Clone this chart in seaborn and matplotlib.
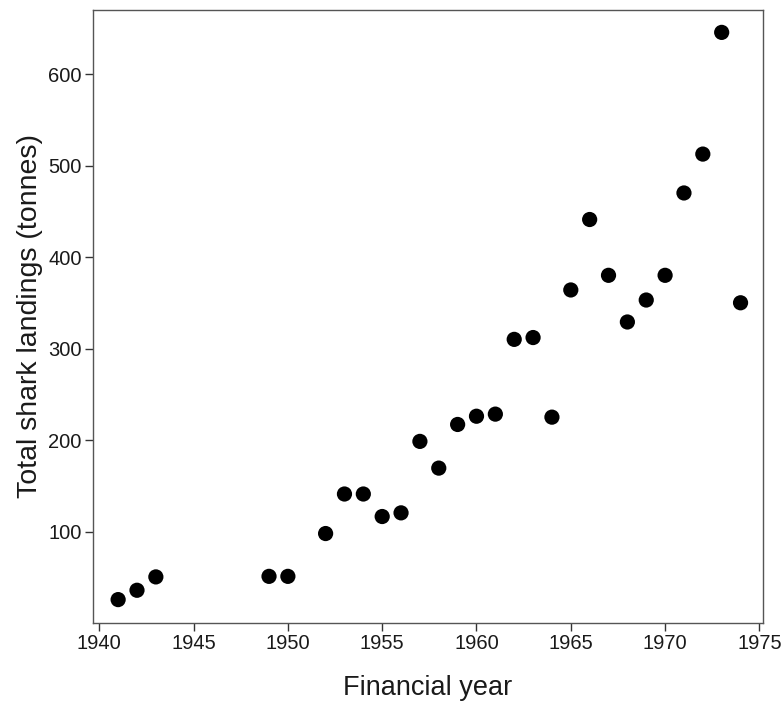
import matplotlib
matplotlib.use("Agg")
import matplotlib.pyplot as plt
import seaborn as sns
import pandas as pd

years = [1941, 1942, 1943, 1949, 1950, 1952, 1953, 1954, 1955, 1956, 1957, 1958,
         1959, 1960, 1961, 1962, 1963, 1964, 1965, 1966, 1967, 1968, 1969, 1970,
         1971, 1972, 1973, 1974]
landings = [25.6, 35.8, 50.4, 51, 51, 97.8, 141, 141, 116.4, 120.4, 198.5, 169.3,
            217, 226, 228.3, 310, 312, 225, 364, 441, 380, 329, 353, 380,
            470, 512.5, 645.5, 350]
xticks = [1940, 1945, 1950, 1955, 1960, 1965, 1970, 1975]
yticks = [100, 200, 300, 400, 500, 600]

df = pd.DataFrame({"year": years, "landings": landings})

sns.set_theme(style="white")
plt.rcParams["font.family"] = ["Liberation Sans", "DejaVu Sans"]

fig = plt.figure(figsize=(7.84, 7.02), dpi=100)
ax = fig.add_axes([0.1182, 0.1125, 0.855, 0.8733])
sns.scatterplot(data=df, x="year", y="landings", ax=ax, s=120, color="black",
                edgecolor="none", legend=False)

ax.set_xlim(1939.65, 1975.19)
ax.set_ylim(0, 670)
ax.set_xticks(xticks)
ax.set_yticks(yticks)
ax.tick_params(axis="both", direction="out", length=5.5, width=1, color="#333333",
               labelsize=14.5, labelcolor="#1a1a1a", left=True, bottom=True, pad=2.5)
for sp in ax.spines.values():
    sp.set_color("#555555")
    sp.set_linewidth(1)
ax.set_xlabel("Financial year", fontsize=19.5, color="#1a1a1a", labelpad=16)
ax.set_ylabel("Total shark landings (tonnes)", fontsize=20.5, color="#1a1a1a", labelpad=4)

fig.savefig("out.png", dpi=100)
